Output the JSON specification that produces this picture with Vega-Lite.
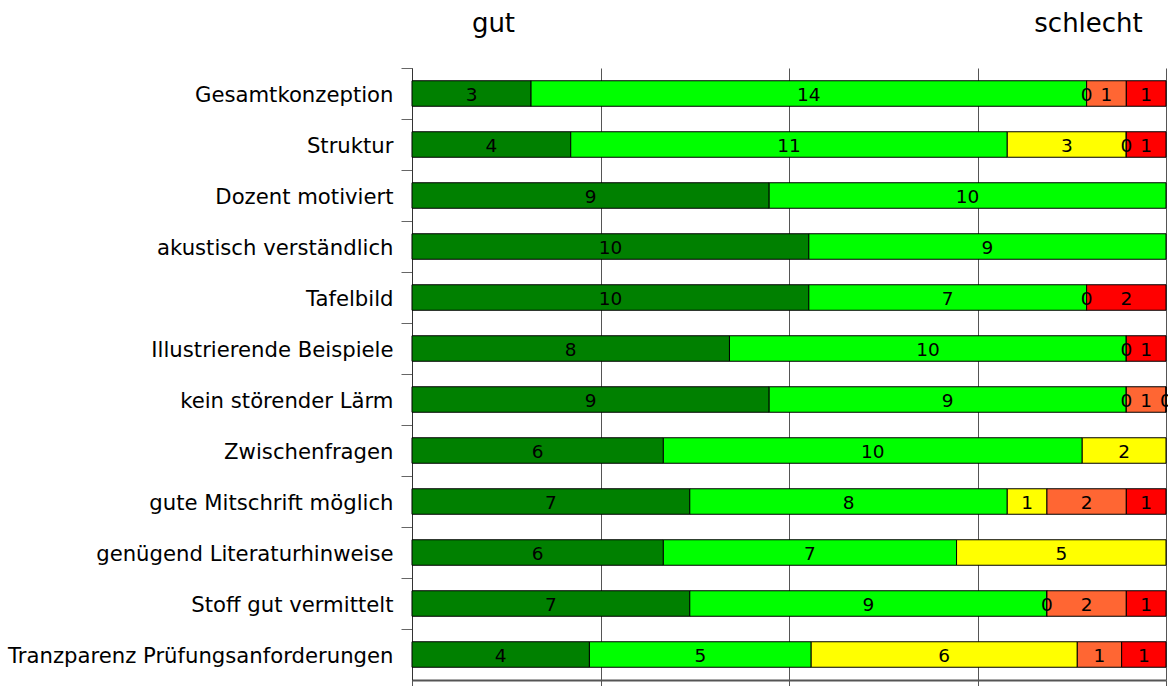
{
  "$schema": "https://vega.github.io/schema/vega-lite/v6.json",
  "width": 754,
  "height": 612,
  "autosize": "none",
  "padding": {"left": 412, "top": 68, "right": 2, "bottom": 6},
  "background": "white",
  "config": {"view": {"stroke": null}, "font": "DejaVu Sans"},
  "data": {
    "values": [
      {"item": "Gesamtkonzeption", "cat": "1", "n": 3},
      {"item": "Gesamtkonzeption", "cat": "2", "n": 14},
      {"item": "Gesamtkonzeption", "cat": "3", "n": 0},
      {"item": "Gesamtkonzeption", "cat": "4", "n": 1},
      {"item": "Gesamtkonzeption", "cat": "5", "n": 1},
      {"item": "Struktur", "cat": "1", "n": 4},
      {"item": "Struktur", "cat": "2", "n": 11},
      {"item": "Struktur", "cat": "3", "n": 3},
      {"item": "Struktur", "cat": "4", "n": 0},
      {"item": "Struktur", "cat": "5", "n": 1},
      {"item": "Dozent motiviert", "cat": "1", "n": 9},
      {"item": "Dozent motiviert", "cat": "2", "n": 10},
      {"item": "akustisch verständlich", "cat": "1", "n": 10},
      {"item": "akustisch verständlich", "cat": "2", "n": 9},
      {"item": "Tafelbild", "cat": "1", "n": 10},
      {"item": "Tafelbild", "cat": "2", "n": 7},
      {"item": "Tafelbild", "cat": "4", "n": 0},
      {"item": "Tafelbild", "cat": "5", "n": 2},
      {"item": "Illustrierende Beispiele", "cat": "1", "n": 8},
      {"item": "Illustrierende Beispiele", "cat": "2", "n": 10},
      {"item": "Illustrierende Beispiele", "cat": "4", "n": 0},
      {"item": "Illustrierende Beispiele", "cat": "5", "n": 1},
      {"item": "kein störender Lärm", "cat": "1", "n": 9},
      {"item": "kein störender Lärm", "cat": "2", "n": 9},
      {"item": "kein störender Lärm", "cat": "3", "n": 0},
      {"item": "kein störender Lärm", "cat": "4", "n": 1},
      {"item": "kein störender Lärm", "cat": "5", "n": 0},
      {"item": "Zwischenfragen", "cat": "1", "n": 6},
      {"item": "Zwischenfragen", "cat": "2", "n": 10},
      {"item": "Zwischenfragen", "cat": "3", "n": 2},
      {"item": "gute Mitschrift möglich", "cat": "1", "n": 7},
      {"item": "gute Mitschrift möglich", "cat": "2", "n": 8},
      {"item": "gute Mitschrift möglich", "cat": "3", "n": 1},
      {"item": "gute Mitschrift möglich", "cat": "4", "n": 2},
      {"item": "gute Mitschrift möglich", "cat": "5", "n": 1},
      {"item": "genügend Literaturhinweise", "cat": "1", "n": 6},
      {"item": "genügend Literaturhinweise", "cat": "2", "n": 7},
      {"item": "genügend Literaturhinweise", "cat": "3", "n": 5},
      {"item": "Stoff gut vermittelt", "cat": "1", "n": 7},
      {"item": "Stoff gut vermittelt", "cat": "2", "n": 9},
      {"item": "Stoff gut vermittelt", "cat": "3", "n": 0},
      {"item": "Stoff gut vermittelt", "cat": "4", "n": 2},
      {"item": "Stoff gut vermittelt", "cat": "5", "n": 1},
      {"item": "Tranzparenz Prüfungsanforderungen", "cat": "1", "n": 4},
      {"item": "Tranzparenz Prüfungsanforderungen", "cat": "2", "n": 5},
      {"item": "Tranzparenz Prüfungsanforderungen", "cat": "3", "n": 6},
      {"item": "Tranzparenz Prüfungsanforderungen", "cat": "4", "n": 1},
      {"item": "Tranzparenz Prüfungsanforderungen", "cat": "5", "n": 1}
    ]
  },
  "transform": [
    {"stack": "n", "groupby": ["item"], "offset": "normalize", "sort": [{"field": "cat", "order": "ascending"}], "as": ["x0", "x1"]}
  ],
  "encoding": {
    "y": {
      "field": "item",
      "type": "nominal",
      "sort": ["Gesamtkonzeption", "Struktur", "Dozent motiviert", "akustisch verständlich", "Tafelbild", "Illustrierende Beispiele", "kein störender Lärm", "Zwischenfragen", "gute Mitschrift möglich", "genügend Literaturhinweise", "Stoff gut vermittelt", "Tranzparenz Prüfungsanforderungen"],
      "scale": {"paddingInner": 0.5, "paddingOuter": 0.25},
      "axis": {
        "title": null,
        "tickBand": "center",
        "tickOffset": -25.5,
        "labelFont": "DejaVu Sans",
        "labelFontSize": 21.2,
        "labelColor": "#000",
        "labelBaseline": "alphabetic",
        "labelOffset": 33.5,
        "labelPadding": 8,
        "labelLimit": 600,
        "tickSize": 11,
        "tickColor": "#666",
        "domainColor": "#333",
        "grid": false
      }
    }
  },
  "layer": [
    {
      "mark": {"type": "bar", "stroke": "#000", "strokeWidth": 1},
      "encoding": {
        "x": {
          "field": "x0",
          "type": "quantitative",
          "scale": {"domain": [0, 1], "nice": false, "zero": true},
          "axis": {
            "title": null,
            "labels": false,
            "grid": true,
            "gridColor": "#555",
            "gridWidth": 1,
            "values": [0, 0.25, 0.5, 0.75, 1],
            "tickSize": 8,
            "tickColor": "#555",
            "domainColor": "#555",
            "domainWidth": 2
          }
        },
        "x2": {"field": "x1"},
        "color": {
          "field": "cat",
          "type": "nominal",
          "scale": {"domain": ["1", "2", "3", "4", "5"], "range": ["#008000", "#00ff00", "#ffff00", "#ff6633", "#ff0000"]},
          "legend": null
        }
      }
    },
    {
      "transform": [
        {"fold": ["x0", "x1"], "as": ["k", "v"]},
        {"aggregate": [{"op": "mean", "field": "v", "as": "mid"}], "groupby": ["item", "cat", "n"]}
      ],
      "mark": {"type": "text", "font": "DejaVu Sans", "fontSize": 18.5, "baseline": "alphabetic", "dy": 7.5, "color": "#000"},
      "encoding": {
        "x": {
          "field": "mid",
          "type": "quantitative",
          "axis": {
            "orient": "top",
            "title": null,
            "values": [0.1074, 0.8966],
            "labelExpr": "datum.value < 0.5 ? 'gut' : 'schlecht'",
            "labelFont": "DejaVu Sans",
            "labelFontSize": 26,
            "labelColor": "#000",
            "labelAlign": "center",
            "labelBaseline": "alphabetic",
            "labelPadding": 37,
            "labelFlush": false,
            "labelOverlap": false,
            "ticks": false,
            "tickSize": 0,
            "domain": false,
            "grid": false
          }
        },
        "text": {"field": "n", "type": "quantitative"}
      }
    }
  ],
  "resolve": {"axis": {"x": "independent"}}
}
